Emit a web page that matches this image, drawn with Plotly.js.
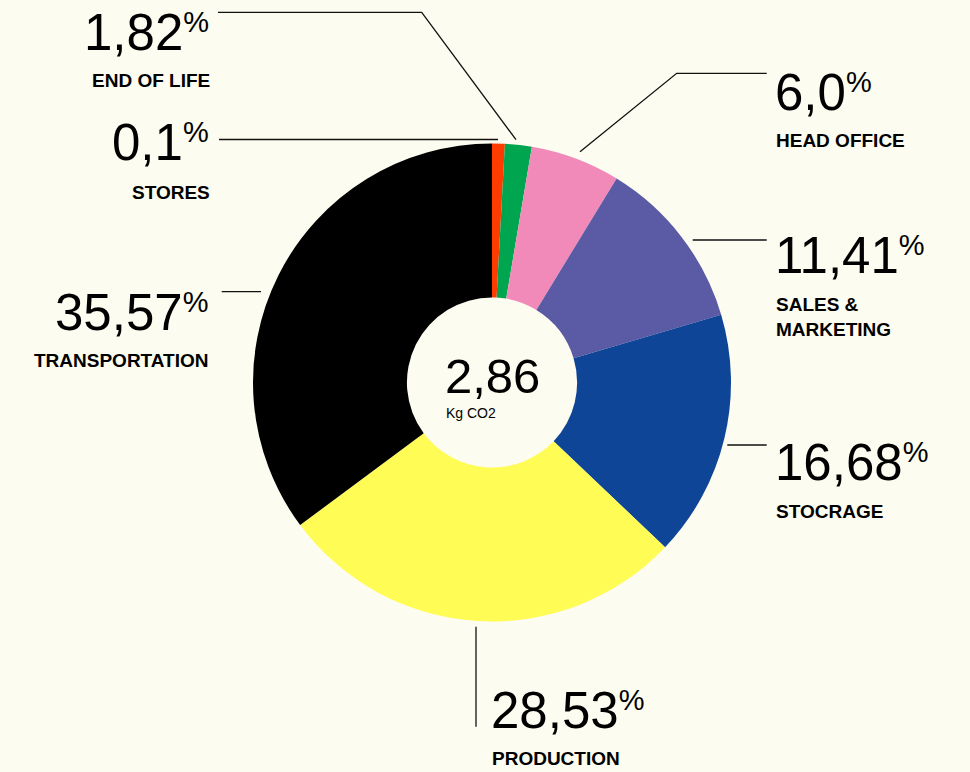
<!DOCTYPE html>
<html>
<head>
<meta charset="utf-8">
<script src="https://cdn.plot.ly/plotly-3.0.1.min.js"></script>
<style>html,body{margin:0;padding:0;background:#fcfcf0;}#chart{width:970px;height:772px;}</style>
</head>
<body>
<div id="chart"></div>
<script>
// ---- data ----
var categories = ["STORES", "END OF LIFE", "HEAD OFFICE", "SALES &<br>MARKETING", "STOCRAGE", "PRODUCTION", "TRANSPORTATION"];
var sliceValues = [0.86, 1.81, 6.06, 11.69, 16.69, 27.72, 35.17];
var percentLabels = ["0,1", "1,82", "6,0", "11,41", "16,68", "28,53", "35,57"];
var sliceColors = ["#ff3c00", "#00a54f", "#f18ab8", "#5a5ba4", "#0f4597", "#fffc55", "#000000"];
var totalValue = "2,86";
var totalUnit = "Kg CO2";

// ---- layout helpers (pixel -> paper) ----
var W = 970, H = 772;
function px(x) { return x / W; }
function py(y) { return 1 - y / H; }

var FONT = "Liberation Sans, Arial, Helvetica, sans-serif";
var NUM_SIZE = 51;
// label placement: x, anchor, baseline of number, top of label box
var placement = [
  {x: 209, anchor: "right", labX: 210, numBase: 160, labTop: 181.8},
  {x: 209, anchor: "right", labX: 210, numBase: 50, labTop: 69.8},
  {x: 775, anchor: "left", labX: 776, numBase: 110, labTop: 129.5},
  {x: 775, anchor: "left", labX: 776, numBase: 273, labTop: 293.5},
  {x: 775, anchor: "left", labX: 776, numBase: 480, labTop: 501.1},
  {x: 491, anchor: "left", labX: 492, numBase: 728, labTop: 747.8},
  {x: 208, anchor: "right", labX: 209, numBase: 330, labTop: 349.5}
];
var leaders = [
  "M219,139.5 L498,139.5",
  "M218,12.3 L421.7,12.3 L516,139.7",
  "M580,151.7 L676.7,73.3 L766.7,73.3",
  "M692.7,240 L766.7,240",
  "M727.3,445 L766.7,445",
  "M476,626.7 L476,726.7",
  "M221.7,291.7 L261,291.7"
];

var pctHtml = '<span style="font-size:43px"><sup><span style="font-size:29px">%</span></sup></span>';

var annotations = [];
var shapes = [];
for (var i = 0; i < categories.length; i++) {
  var p = placement[i];
  annotations.push({
    xref: "paper", yref: "paper", x: px(p.x), y: py(p.numBase - 0.905 * NUM_SIZE),
    xanchor: p.anchor, yanchor: "top", align: p.anchor, showarrow: false,
    borderpad: 0, borderwidth: 0,
    text: percentLabels[i] + pctHtml,
    font: {family: FONT, size: NUM_SIZE, color: "#000"}
  });
  annotations.push({
    xref: "paper", yref: "paper", x: px(p.labX), y: py(p.labTop),
    xanchor: p.anchor, yanchor: "top", align: "left", showarrow: false,
    borderpad: 0, borderwidth: 0,
    text: "<b>" + categories[i] + "</b>",
    font: {family: FONT, size: 19, color: "#000"}
  });
  var path = leaders[i].replace(/([ML])\s*([\d.]+),([\d.]+)/g, function (m, c, a, b) {
    return c + px(parseFloat(a)) + "," + py(parseFloat(b)) + " ";
  });
  shapes.push({type: "path", xref: "paper", yref: "paper", path: path,
    line: {color: "#111", width: 1.3}});
}
annotations.push({
  xref: "paper", yref: "paper", x: px(445), y: py(393 - 0.905 * 49),
  xanchor: "left", yanchor: "top", showarrow: false, borderpad: 0, borderwidth: 0,
  text: totalValue, font: {family: FONT, size: 49, color: "#000"}
});
annotations.push({
  xref: "paper", yref: "paper", x: px(446), y: py(405.3),
  xanchor: "left", yanchor: "top", showarrow: false, borderpad: 0, borderwidth: 0,
  text: totalUnit, font: {family: FONT, size: 14, color: "#000"}
});

var trace = {
  type: "pie",
  labels: categories,
  values: sliceValues,
  sort: false,
  direction: "clockwise",
  rotation: 0,
  hole: 0.356,
  textinfo: "none",
  hoverinfo: "none",
  marker: {colors: sliceColors, line: {width: 0}},
  domain: {x: [253 / W, 731 / W], y: [1 - 621.5 / H, 1 - 143.5 / H]}
};

var layout = {
  width: W, height: H,
  margin: {l: 0, r: 0, t: 0, b: 0},
  paper_bgcolor: "#fcfcf0",
  plot_bgcolor: "#fcfcf0",
  showlegend: false,
  annotations: annotations,
  shapes: shapes
};

Plotly.newPlot("chart", [trace], layout, {displayModeBar: false, staticPlot: true});
</script>
</body>
</html>
